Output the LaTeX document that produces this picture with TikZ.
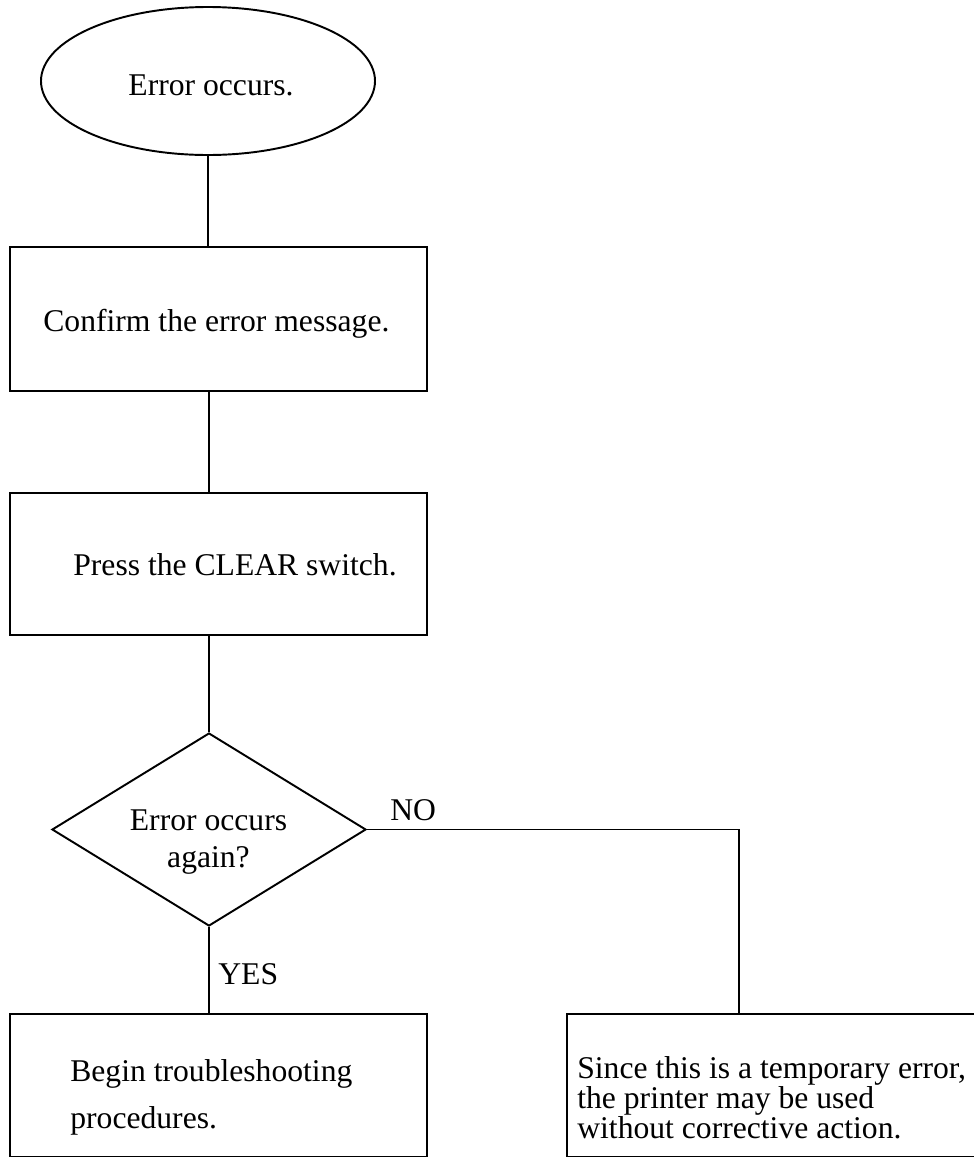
\documentclass[tikz,border=0pt]{standalone}
\usepackage{fontspec}
\setmainfont{Liberation Serif}
\usetikzlibrary{shapes.geometric,positioning,calc}

\begin{document}
\begin{tikzpicture}[
    shapebox/.style={draw, line width=1.1pt, inner sep=0pt, minimum width=8.34cm, minimum height=2.86cm},
    startshape/.style={draw, ellipse, line width=1.1pt, inner sep=0pt, minimum width=6.68cm, minimum height=2.96cm},
    decide/.style={draw, diamond, line width=1.1pt, inner sep=0pt, minimum width=6.28cm, minimum height=3.86cm},
    txt/.style={inner sep=0pt, font=\fontsize{18}{21.5}\selectfont},
    link/.style={line width=1.1pt}
]
\useasboundingbox (0,0) rectangle (19.48,-23.14);

% shapes
\node[startshape] (start) at (4.16,-1.62) {};
\node[shapebox, minimum height=2.88cm] (confirm) at (4.37,-6.38) {};
\node[shapebox, minimum height=2.84cm] (clear) at (4.37,-11.28) {};
\node[decide] (check) at (4.18,-16.59) {};
\node[shapebox] (fix) at (4.37,-21.71) {};
\node[shapebox, minimum width=8.46cm] (temp) at (15.57,-21.71) {};
\coordinate (noturn) at (14.78,-16.59);

% texts
\node[txt, anchor=base] (start-t) at (4.22,-1.90) {Error occurs.};
\node[txt, anchor=base west] (confirm-t) at (0.86,-6.62) {Confirm the error message.};
\node[txt, anchor=base west] (clear-t) at (1.46,-11.50) {Press the CLEAR switch.};
\node[txt, anchor=north, align=center, font=\fontsize{18}{21.5}\selectfont] (check-t) at (4.17,-16.18) {Error occurs\\again?};
\node[txt, anchor=base west] (no-t) at (7.80,-16.40) {NO};
\node[txt, anchor=base west] (yes-t) at (4.36,-19.68) {YES};
\node[txt, anchor=north west, align=left, font=\fontsize{18}{26.6}\selectfont] (fix-t) at (1.40,-21.18) {Begin troubleshooting\\procedures.};
\node[txt, anchor=north west, align=left, font=\fontsize{18}{17}\selectfont] (temp-t) at (11.54,-21.13) {Since this is a temporary error,\\the printer may be used\\without corrective action.};

% connectors
\draw[link] (start.south) -- (start.south |- confirm.north);
\draw[link] (check.north |- confirm.south) -- (check.north |- clear.north);
\draw[link] (check.north |- clear.south) -- (check.north);
\draw[link] (check.south) -- (check.south |- fix.north);
\draw[link] (check.east) -- (noturn) -- (noturn |- temp.north);
\end{tikzpicture}
\end{document}
